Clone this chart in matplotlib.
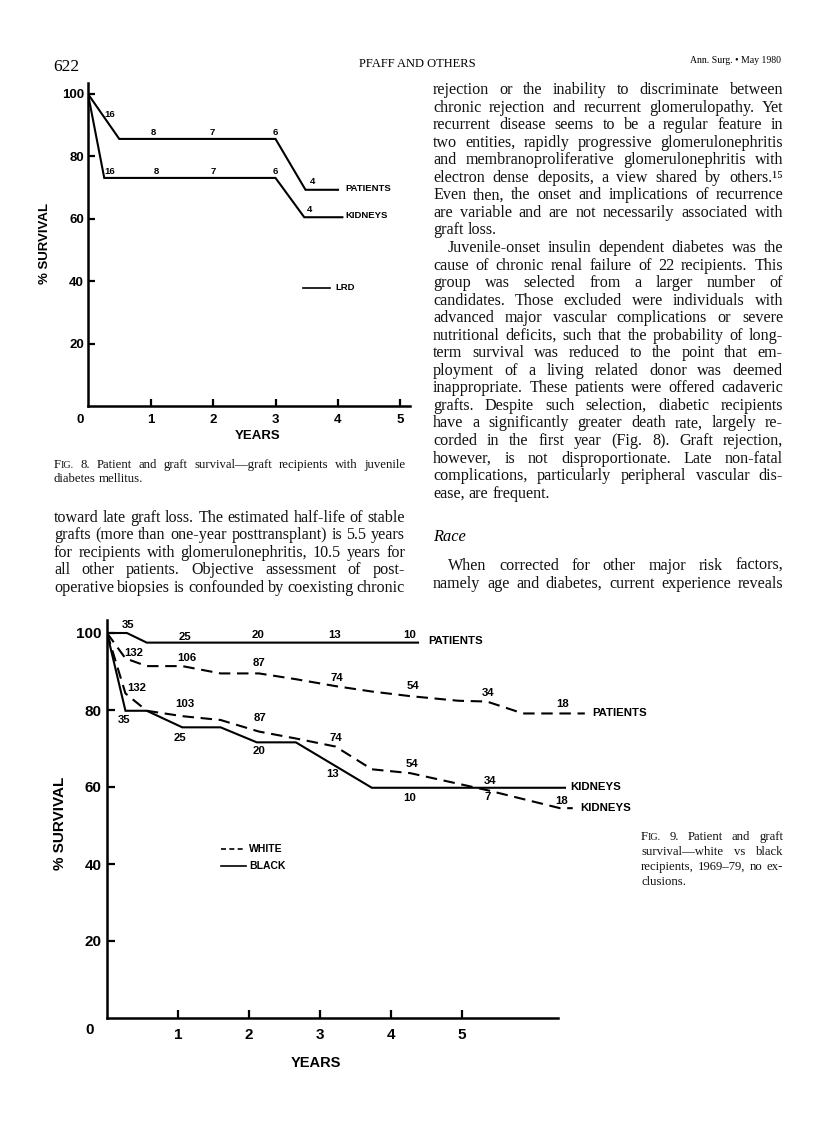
import matplotlib
matplotlib.use("Agg")
from matplotlib import pyplot as plt

W, H = 816, 1147
SERIF = ["Liberation Serif", "DejaVu Serif"]
SANS = ["Liberation Sans", "DejaVu Sans"]

# ---- Fig. 8 : LRD grafts, juvenile diabetes
f8_pat_x = [0, 0.5, 3.0, 3.48, 4.0]
f8_pat_y = [100, 85.6, 85.6, 69.3, 69.3]
f8_kid_x = [0, 0.26, 3.0, 3.46, 4.07]
f8_kid_y = [100, 73.1, 73.1, 60.5, 60.5]
f8_pat_n = ["16", "8", "7", "6", "4"]
f8_pat_nx = [0.34, 1.05, 1.98, 3.0, 3.6]
f8_pat_ny = [93.5, 87.6, 87.6, 87.6, 72.0]
f8_kid_n = ["16", "8", "7", "6", "4"]
f8_kid_nx = [0.35, 1.09, 2.0, 2.99, 3.54]
f8_kid_ny = [75.3, 75.3, 75.3, 75.3, 63.0]

# ---- Fig. 9 : white vs black
wp_x = [0, 0.26, 0.56, 1.06, 1.6, 2.14, 2.66, 3.22, 3.73, 4.27, 4.95, 5.35, 5.86, 6.73]
wp_y = [100, 93.4, 91.4, 91.4, 89.5, 89.5, 88.0, 86.2, 84.8, 83.6, 82.4, 82.2, 79.1, 79.1]
wk_x = [0, 0.26, 0.56, 1.06, 1.6, 2.14, 2.66, 3.22, 3.73, 4.27, 5.35, 6.38, 6.56]
wk_y = [100, 84.3, 79.8, 78.4, 77.4, 74.4, 72.6, 70.5, 64.6, 63.6, 59.2, 54.5, 54.5]
bp_x = [0, 0.28, 0.56, 4.38]
bp_y = [100, 100, 97.5, 97.5]
bk_x = [0, 0.26, 0.56, 1.06, 1.6, 2.11, 2.66, 3.73, 6.45]
bk_y = [100, 79.8, 79.8, 75.5, 75.5, 71.6, 71.6, 59.8, 59.8]

bp_n = ["35", "25", "20", "13", "10"]
bp_nx = [0.30, 1.10, 2.13, 3.20, 4.27]
bp_ny = [102.2, 98.9, 99.4, 99.4, 99.4]
wp_n = ["132", "106", "87", "74", "54", "34", "18"]
wp_nx = [0.38, 1.13, 2.14, 3.24, 4.31, 5.37, 6.42]
wp_ny = [94.9, 93.4, 92.1, 88.4, 86.2, 84.5, 81.6]
wk_n = ["132", "103", "87", "74", "54", "34", "18"]
wk_nx = [0.42, 1.09, 2.16, 3.22, 4.29, 5.40, 6.41]
wk_ny = [85.6, 81.5, 77.8, 72.8, 66.1, 61.6, 56.4]
bk_n = ["35", "25", "20", "13", "10", "7"]
bk_nx = [0.24, 1.03, 2.14, 3.17, 4.27, 5.36]
bk_ny = [77.3, 72.6, 69.4, 63.4, 57.1, 57.3]

# ---- page text
right_col = [
    "rejection or the inability to discriminate between",
    "chronic rejection and recurrent glomerulopathy. Yet",
    "recurrent disease seems to be a regular feature in",
    "two entities, rapidly progressive glomerulonephritis",
    "and membranoproliferative glomerulonephritis with",
    "electron dense deposits, a view shared by others.\u00b9\u2075",
    "Even then, the onset and implications of recurrence",
    "are variable and are not necessarily associated with",
    "graft loss.",
    "Juvenile-onset insulin dependent diabetes was the",
    "cause of chronic renal failure of 22 recipients. This",
    "group was selected from a larger number of",
    "candidates. Those excluded were individuals with",
    "advanced major vascular complications or severe",
    "nutritional deficits, such that the probability of long-",
    "term survival was reduced to the point that em-",
    "ployment of a living related donor was deemed",
    "inappropriate. These patients were offered cadaveric",
    "grafts. Despite such selection, diabetic recipients",
    "have a significantly greater death rate, largely re-",
    "corded in the first year (Fig. 8). Graft rejection,",
    "however, is not disproportionate. Late non-fatal",
    "complications, particularly peripheral vascular dis-",
    "ease, are frequent.",
]
race_lines = [
    "When corrected for other major risk factors,",
    "namely age and diabetes, current experience reveals",
]
left_col = [
    "toward late graft loss. The estimated half-life of stable",
    "grafts (more than one-year posttransplant) is 5.5 years",
    "for recipients with glomerulonephritis, 10.5 years for",
    "all other patients. Objective assessment of post-",
    "operative biopsies is confounded by coexisting chronic",
]
cap8 = [
    "FIG. 8. Patient and graft survival\u2014graft recipients with juvenile",
    "diabetes mellitus.",
]
cap9 = [
    "FIG. 9. Patient and graft",
    "survival\u2014white vs black",
    "recipients, 1969\u201379, no ex-",
    "clusions.",
]

fig = plt.figure(figsize=(W / 100, H / 100), dpi=100)
fig.patch.set_facecolor("white")
rend = fig.canvas.get_renderer()


def fp(x, y):
    return x / W, 1 - y / H


def put(x, y, s, **kw):
    fx, fy = fp(x, y)
    return fig.text(fx, fy, s, **kw)


def word_parts(w, size):
    # "FIG." is set in small caps in the journal
    if w == "FIG.":
        return [("F", size), ("IG.", size * 0.78)]
    return [(w, size)]


def block(lines, x0, x1, y0, dy, size, last=(), indent=(), ind=15):
    kw = dict(family=SERIF, va="baseline", color="#111111")
    for i, line in enumerate(lines):
        y = y0 + i * dy
        xs = x0 + (ind if i in indent else 0)
        words = line.split()
        items = []
        for w in words:
            ts = [put(0, 0, s, fontsize=fs, **kw) for s, fs in word_parts(w, size)]
            ws = [t.get_window_extent(rend).width for t in ts]
            items.append((ts, ws))
        total = sum(sum(ws) for _, ws in items)
        if i in last or len(words) < 2:
            gap = size * 100 / 72 * 0.25
        else:
            gap = (x1 - xs - total) / (len(words) - 1)
        x = xs
        for ts, ws in items:
            for t, w in zip(ts, ws):
                t.set_position(fp(x, y))
                x += w
            x += gap


def make_axes(x0, y0, xmax, ymax, pxx, pxy):
    # x0,y0 = pixel position of origin, pxx/pxy = pixels per unit
    l, b = fp(x0, y0)
    ax = fig.add_axes([l, b, xmax * pxx / W, ymax * pxy / H])
    ax.set_xlim(0, xmax)
    ax.set_ylim(0, ymax)
    for s in ["top", "right"]:
        ax.spines[s].set_visible(False)
    for s in ["left", "bottom"]:
        ax.spines[s].set_linewidth(1.8)
    ax.patch.set_alpha(0)
    return ax


# header
put(53, 71, "622", fontsize=12.5, family=SERIF)
put(417, 67, "PFAFF AND OTHERS", fontsize=9, family=SERIF, ha="center")
put(781, 63, "Ann. Surg. \u2022 May 1980", fontsize=7, family=SERIF, ha="right")

block(right_col, 433, 783, 94, 17.55, 11.6, last=(8, 23), indent=(9,))
put(433, 541, "Race", fontsize=11.8, family=SERIF, style="italic", va="baseline")
block(race_lines, 433, 783, 570, 17.55, 11.6, indent=(0,))
block(cap8, 54, 405, 468, 13.5, 9.2, last=(1,))
block(left_col, 54, 405, 522, 17.5, 11.6)
block(cap9, 641, 783, 840, 15, 9.2, last=(3,), ind=0)

# ---------------- Fig. 8
ax8 = make_axes(88, 406, 5.2, 104, 62.5, 3.12)
ax8.spines["bottom"].set_bounds(0, 5.15)
ax8.spines["left"].set_bounds(0, 103.5)
ax8.plot(f8_pat_x, f8_pat_y, color="black", lw=1.5, solid_joinstyle="miter")
ax8.plot(f8_kid_x, f8_kid_y, color="black", lw=1.5, solid_joinstyle="miter")
for s, x, y in zip(f8_pat_n, f8_pat_nx, f8_pat_ny):
    ax8.text(x, y, s, fontsize=6.8, family=SANS, weight="bold", ha="center", va="center")
for s, x, y in zip(f8_kid_n, f8_kid_nx, f8_kid_ny):
    ax8.text(x, y, s, fontsize=6.8, family=SANS, weight="bold", ha="center", va="center")
ax8.text(4.11, 69.8, "PATIENTS", fontsize=6.8, family=SANS, weight="bold", va="center")
ax8.text(4.12, 61.2, "KIDNEYS", fontsize=6.8, family=SANS, weight="bold", va="center")
ax8.plot([3.44, 3.87], [37.9, 37.9], color="black", lw=1.2)
ax8.text(3.95, 37.9, "LRD", fontsize=6.8, family=SANS, weight="bold", va="center")
ax8.set_xticks([1, 2, 3, 4, 5])
ax8.set_yticks([20, 40, 60, 80, 100])
ax8.tick_params(direction="in", length=5, width=1.6, pad=6, labelsize=9.5)
for t in ax8.get_xticklabels() + ax8.get_yticklabels():
    t.set_fontweight("bold")
    t.set_family(SANS)
ax8.tick_params(axis="y", pad=3)
ax8.text(-0.13, -4.6, "0", fontsize=9.5, family=SANS, weight="bold", ha="center", va="center")
put(45, 243, "% SURVIVAL", fontsize=9.5, family=SANS, weight="bold", rotation=90,
    ha="center", va="center")
put(258, 436, "YEARS", fontsize=9.5, family=SANS, weight="bold", ha="center", va="center")

# ---------------- Fig. 9
ax9 = make_axes(107, 1018, 7.0, 103.5, 71, 3.85)
ax9.spines["bottom"].set_bounds(0, 6.35)
dash = dict(color="black", lw=1.5, dashes=(5.5, 3.2))
solid = dict(color="black", lw=1.5, solid_joinstyle="miter")
ax9.plot(bp_x, bp_y, **solid)
ax9.plot(bk_x, bk_y, **solid)
ax9.plot(wp_x, wp_y, **dash)
ax9.plot(wk_x, wk_y, **dash)
lab = dict(fontsize=8.2, family=SANS, weight="bold", ha="center", va="center")
for ns, xs, ys in [(bp_n, bp_nx, bp_ny), (wp_n, wp_nx, wp_ny),
                   (wk_n, wk_nx, wk_ny), (bk_n, bk_nx, bk_ny)]:
    for s, x, y in zip(ns, xs, ys):
        ax9.text(x, y, s, **lab)
end = dict(fontsize=8.2, family=SANS, weight="bold", va="center")
ax9.text(4.52, 97.9, "PATIENTS", **end)
ax9.text(6.83, 79.1, "PATIENTS", **end)
ax9.text(6.53, 60.1, "KIDNEYS", **end)
ax9.text(6.66, 54.5, "KIDNEYS", **end)
ax9.plot([1.6, 1.96], [43.9, 43.9], color="black", lw=1.2, dashes=(3, 2))
ax9.plot([1.6, 1.96], [39.5, 39.5], color="black", lw=1.2)
ax9.text(2.0, 43.9, "WHITE", fontsize=7.5, family=SANS, weight="bold", va="center")
ax9.text(2.0, 39.5, "BLACK", fontsize=7.5, family=SANS, weight="bold", va="center")
ax9.set_xticks([1, 2, 3, 4, 5])
ax9.set_yticks([20, 40, 60, 80, 100])
ax9.tick_params(direction="in", length=6, width=1.6, pad=7, labelsize=11)
ax9.tick_params(axis="y", pad=4)
for t in ax9.get_xticklabels() + ax9.get_yticklabels():
    t.set_fontweight("bold")
    t.set_family(SANS)
ax9.text(-0.24, -3.1, "0", fontsize=11, family=SANS, weight="bold", ha="center", va="center")
put(60, 823, "% SURVIVAL", fontsize=11, family=SANS, weight="bold", rotation=90,
    ha="center", va="center")
put(316, 1063, "YEARS", fontsize=10.5, family=SANS, weight="bold", ha="center", va="center")

fig.savefig("out.png", dpi=100)
